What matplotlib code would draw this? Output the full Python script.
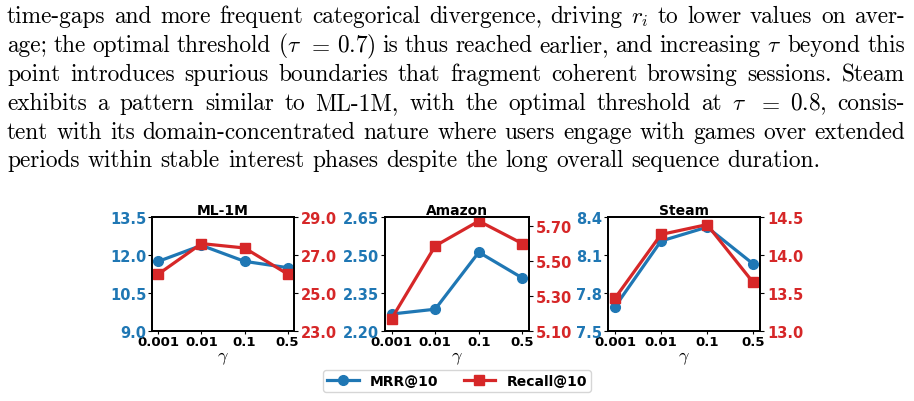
import matplotlib
matplotlib.use("Agg")
import matplotlib.pyplot as plt

plt.rcParams["mathtext.fontset"] = "cm"
plt.rcParams["axes.unicode_minus"] = False

W, H = 914, 402
BLUE = "#1f77b4"
RED = "#d62728"

# paragraph above the figure, one list of words per printed line
para_lines = [
    ["time-gaps", "and", "more", "frequent", "categorical", "divergence,", "driving",
     "$r_i$", "to", "lower", "values", "on", "aver-"],
    ["age;", "the", "optimal", "threshold", r"$(\tau$", "$=$", "$0.7)$", "is", "thus",
     "reached", "earlier,", "and", "increasing", r"$\tau$", "beyond", "this"],
    ["point", "introduces", "spurious", "boundaries", "that", "fragment", "coherent",
     "browsing", "sessions.", "Steam"],
    ["exhibits", "a", "pattern", "similar", "to", "ML-1M,", "with", "the", "optimal",
     "threshold", "at", r"$\tau$", "$=$", "$0.8$,", "consis-"],
    ["tent", "with", "its", "domain-concentrated", "nature", "where", "users", "engage",
     "with", "games", "over", "extended"],
    ["periods", "within", "stable", "interest", "phases", "despite", "the", "long",
     "overall", "sequence", "duration."],
]

gammas = ["0.001", "0.01", "0.1", "0.5"]

titles = ["ML-1M", "Amazon", "Steam"]
mrr = [
    [11.75, 12.38, 11.75, 11.50],
    [2.267, 2.286, 2.511, 2.409],
    [7.69, 8.21, 8.32, 8.03],
]
recall = [
    [26.0, 27.6, 27.37, 26.0],
    [5.17, 5.585, 5.727, 5.598],
    [13.43, 14.27, 14.40, 13.64],
]
mrr_ticks = [
    [9.0, 10.5, 12.0, 13.5],
    [2.20, 2.35, 2.50, 2.65],
    [7.5, 7.8, 8.1, 8.4],
]
recall_ticks = [
    [23.0, 25.0, 27.0, 29.0],
    [5.10, 5.30, 5.50, 5.70],
    [13.0, 13.5, 14.0, 14.5],
]
recall_lims = [(23.0, 29.0), (5.10, 5.75), (13.0, 14.5)]
fmts = ["%.1f", "%.2f", "%.1f"]

fig = plt.figure(figsize=(W / 100, H / 100), dpi=100)
renderer = fig.canvas.get_renderer()

# justified paragraph
left_px, right_px = 7, 905
baselines = [23, 52, 81, 110, 139, 167]
FS = 16.8
for i, words in enumerate(para_lines):
    texts = [fig.text(0, 1 - baselines[i] / H, w, fontsize=FS, family="cmr10",
                      va="baseline", ha="left") for w in words]
    widths = [t.get_window_extent(renderer).width for t in texts]
    if i < len(para_lines) - 1:
        gap = (right_px - left_px - sum(widths)) / (len(words) - 1)
    else:
        gap = 8
    x = left_px
    for t, w in zip(texts, widths):
        t.set_x(x / W)
        x += w + gap

# panels
boxes = [(152, 294), (385, 529), (608, 760)]
top_px, bot_px = 218, 332
xs = list(range(len(gammas)))
for k in range(3):
    l, r = boxes[k]
    ax = fig.add_axes([l / W, 1 - bot_px / H, (r - l) / W, (bot_px - top_px) / H])
    ax2 = ax.twinx()
    l1, = ax.plot(xs, mrr[k], "-o", color=BLUE, lw=2.3, ms=7, label="MRR@10")
    l2, = ax2.plot(xs, recall[k], "-s", color=RED, lw=2.3, ms=7, label="Recall@10")
    ax.set_xlim(-0.15, 3.15)
    ax.set_ylim(mrr_ticks[k][0], mrr_ticks[k][-1])
    ax2.set_ylim(*recall_lims[k])
    ax.set_xticks(xs, gammas, fontweight="bold", fontsize=9.5)
    ax.set_yticks(mrr_ticks[k], [fmts[k] % v for v in mrr_ticks[k]],
                  fontweight="bold", fontsize=10.5, color=BLUE)
    ax2.set_yticks(recall_ticks[k], [fmts[k] % v for v in recall_ticks[k]],
                   fontweight="bold", fontsize=10.5, color=RED)
    ax.tick_params(axis="x", length=2, pad=1)
    ax.tick_params(axis="y", length=3, pad=1)
    ax2.tick_params(axis="y", length=3, pad=2)
    for a in (ax, ax2):
        for s in a.spines.values():
            s.set_linewidth(1.3)
    ax.set_title(titles[k], fontweight="bold", fontsize=10, pad=2)
    ax.set_xlabel(r"$\gamma$", fontsize=13, labelpad=0)

fig.legend([l1, l2], ["MRR@10", "Recall@10"], loc="center",
           bbox_to_anchor=(0.5, 1 - 382 / H), ncol=2, frameon=True,
           prop={"weight": "bold", "size": 10}, handlelength=2.3,
           columnspacing=1.8, borderpad=0.3, fancybox=True)

fig.savefig("out.png", dpi=100)
